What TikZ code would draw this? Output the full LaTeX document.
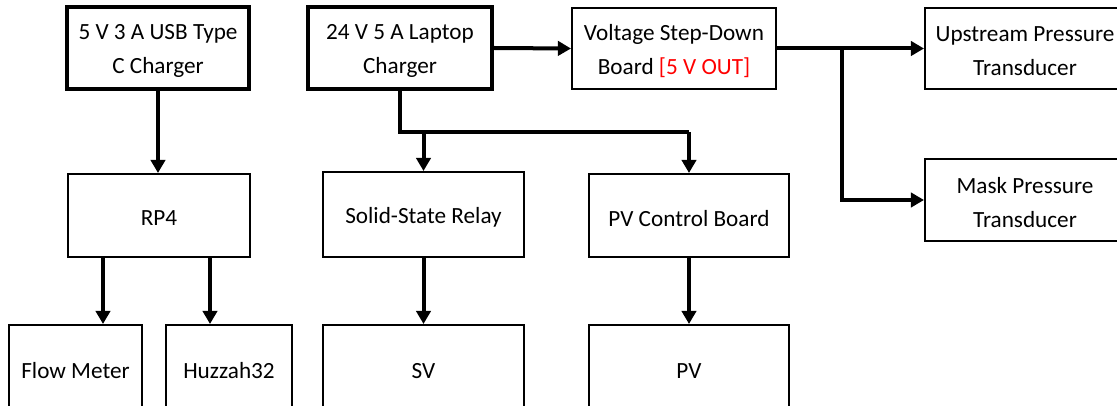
\documentclass[tikz,border=0pt]{standalone}
\usepackage{fontspec}
\setmainfont{Carlito}
\usetikzlibrary{arrows.meta,fit}
\begin{document}
\begin{tikzpicture}[x=0.025cm,y=-0.025cm,
  box/.style={draw=black,line width=0.05cm,inner sep=0pt},
  thickbox/.style={box,line width=0.1cm},
  txt/.style={inner sep=0pt,align=center,yshift=-0.075cm,font=\fontsize{16.5}{24.2}\selectfont},
  arr/.style={line width=0.1cm,-{Triangle[length=0.33cm,width=0.36cm]}},
  wire/.style={line width=0.1cm}]
\path[use as bounding box] (0,0) rectangle (1117,406);
\clip (0,0) rectangle (1117,406);
\definecolor{myred}{RGB}{255,0,0}
% top row
\node[thickbox,fit={(67,7) (249,89)}] (usb) {};
\node[thickbox,fit={(308,7) (492,89)}] (laptop) {};
\node[box,fit={(572,8) (776,89)}] (vsd) {};
\node[box,fit={(925,8) (1125,89)}] (up) {};
\node[box,fit={(925,159) (1125,241)}] (mask) {};
% middle row
\node[box,fit={(68,174) (250,257)}] (rp4) {};
\node[box,fit={(323,172) (524,257)}] (ssr) {};
\node[box,fit={(589,174) (789,257)}] (pvc) {};
% bottom row
\node[box,fit={(9,325) (142,411)}] (flow) {};
\node[box,fit={(166,325) (292,411)}] (huz) {};
\node[box,fit={(323,325) (524,411)}] (sv) {};
\node[box,fit={(589,325) (789,411)}] (pv) {};
% texts
\node[txt] (usbt) at (usb.center) {5 V 3 A USB Type\\C Charger};
\node[txt] (laptopt) at (laptop.center) {24 V 5 A Laptop\\Charger};
\node[txt] (vsdt) at (vsd.center) {Voltage Step-Down\\Board \textcolor{myred}{[5 V OUT]}};
\node[txt] (upt) at (up.center) {Upstream Pressure\\Transducer};
\node[txt] (maskt) at (mask.center) {Mask Pressure\\Transducer};
\node[txt] (rp4t) at (rp4.center) {RP4};
\node[txt] (ssrt) at (ssr.center) {Solid-State Relay};
\node[txt] (pvct) at (pvc.center) {PV Control Board};
\node[txt] (flowt) at (flow.center) {Flow Meter};
\node[txt] (huzt) at (huz.center) {Huzzah32};
\node[txt] (svt) at (sv.center) {SV};
\node[txt] (pvt) at (pv.center) {PV};
% helper coordinates
\coordinate (f1) at (103,0);
\coordinate (h1) at (210,0);
\coordinate (bus) at (0,132);
\coordinate (jx) at (842,0);
% connectors
\draw[arr] (usb.south) -- (usb.south |- rp4.north);
\draw[arr] (rp4.south -| f1) -- (flow.north -| f1);
\draw[arr] (rp4.south -| h1) -- (huz.north -| h1);
\draw[arr] (laptop.east) -- (vsd.west);
\draw[wire] (laptop.south) -- (laptop.south |- bus) -- (bus -| pvc.north);
\draw[arr] (bus -| pvc.north) -- (pvc.north);
\draw[arr] (bus -| ssr.north) -- (ssr.north);
\draw[arr] (ssr.south) -- (sv.north);
\draw[arr] (pvc.south) -- (pv.north);
\draw[arr] (vsd.east) -- (up.west);
\draw[arr] (vsd.east -| jx) -- (jx |- mask.west) -- (mask.west);
\end{tikzpicture}
\end{document}
